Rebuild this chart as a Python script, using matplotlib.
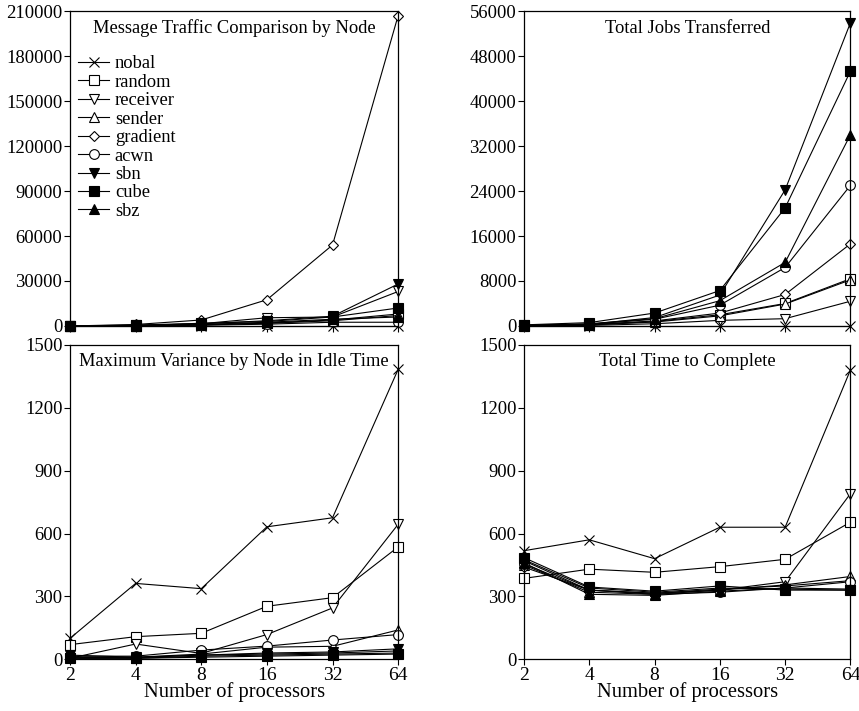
import matplotlib
matplotlib.use("Agg")
import matplotlib.pyplot as plt
import numpy as np

plt.rcParams["font.family"] = "Liberation Serif"
plt.rcParams["font.size"] = 13

procs = [2, 4, 8, 16, 32, 64]
xticklabels = ["2", "4", "8", "16", "32", "64"]

names = ["nobal", "random", "receiver", "sender", "gradient", "acwn", "sbn", "cube", "sbz"]
markers = ["x", "s", "v", "^", "D", "o", "v", "s", "^"]
filled = [False, False, False, False, False, False, True, True, True]
msizes = [7, 7, 7, 7, 5, 7, 7, 7, 7]

# Message traffic comparison by node
msg = {
    "nobal":    [0, 0, 0, 0, 0, 0],
    "random":   [0, 200, 800, 2000, 4000, 8000],
    "receiver": [0, 300, 1500, 5500, 6000, 23000],
    "sender":   [0, 200, 700, 1800, 3500, 7000],
    "gradient": [0, 1000, 4000, 17500, 54000, 207000],
    "acwn":     [0, 100, 500, 1200, 2500, 2500],
    "sbn":      [0, 400, 1500, 3500, 6500, 28000],
    "cube":     [0, 600, 1800, 3000, 6000, 12000],
    "sbz":      [0, 300, 1000, 2500, 4500, 6000],
}

# Total jobs transferred
jobs = {
    "nobal":    [0, 0, 0, 0, 0, 0],
    "random":   [50, 200, 800, 2000, 4000, 8400],
    "receiver": [20, 100, 400, 1000, 1300, 4400],
    "sender":   [50, 200, 700, 1800, 3900, 8200],
    "gradient": [50, 250, 900, 2300, 5600, 14600],
    "acwn":     [80, 300, 1200, 3700, 10400, 25000],
    "sbn":      [100, 300, 1500, 5500, 24200, 53900],
    "cube":     [200, 600, 2300, 6300, 21000, 45300],
    "sbz":      [100, 400, 1300, 4500, 11300, 34000],
}

# Maximum variance by node in idle time
var = {
    "nobal":    [100, 362, 337, 632, 675, 1383],
    "random":   [70, 108, 124, 253, 294, 536],
    "receiver": [5, 73, 28, 118, 245, 644],
    "sender":   [10, 10, 25, 58, 62, 140],
    "gradient": [5, 5, 15, 20, 25, 30],
    "acwn":     [15, 15, 44, 63, 92, 118],
    "sbn":      [20, 10, 20, 30, 35, 50],
    "cube":     [5, 5, 10, 15, 20, 25],
    "sbz":      [10, 8, 20, 25, 30, 40],
}

# Total time to complete
ttime = {
    "nobal":    [518, 570, 480, 630, 630, 1380],
    "random":   [386, 430, 415, 442, 477, 654],
    "receiver": [470, 330, 315, 330, 370, 790],
    "sender":   [450, 320, 310, 330, 355, 395],
    "gradient": [440, 330, 315, 335, 350, 375],
    "acwn":     [455, 330, 310, 320, 340, 370],
    "sbn":      [475, 340, 320, 340, 335, 330],
    "cube":     [485, 345, 325, 350, 330, 330],
    "sbz":      [460, 310, 305, 325, 340, 335],
}

fig = plt.figure(figsize=(8.59, 7.11), dpi=100)
ax_msg = fig.add_axes([0.0815, 0.5415, 0.382, 0.443])
ax_job = fig.add_axes([0.610, 0.5415, 0.380, 0.443])
ax_var = fig.add_axes([0.0815, 0.0727, 0.382, 0.4423])
ax_tim = fig.add_axes([0.610, 0.0727, 0.380, 0.4423])

xpos = np.log2(procs)


def draw(ax, data, title, ymax, ystep, title_x=0.5, title_ha="center", xlabels=False):
    for name, m, f, ms in zip(names, markers, filled, msizes):
        ax.plot(xpos, data[name], color="black", lw=0.8, marker=m, ms=ms,
                mfc="black" if f else "white", mec="black", mew=0.8,
                label=name, clip_on=False)
    ax.set_xlim(xpos[0], xpos[-1])
    ax.set_ylim(0, ymax)
    ax.set_yticks(np.arange(0, ymax + 1, ystep))
    ax.set_xticks(xpos)
    if xlabels:
        ax.set_xticklabels(xticklabels)
        ax.set_xlabel("Number of processors", fontsize=14.8, labelpad=-1)
    else:
        ax.set_xticklabels([])
    ax.tick_params(direction="out", length=4, width=0.8, labelsize=13.4, pad=1.5)
    ax.tick_params(axis="x", labelsize=14)
    for s in ax.spines.values():
        s.set_linewidth(0.9)
    ax.text(title_x, 0.946, title, transform=ax.transAxes, ha=title_ha,
            va="center", fontsize=13.3)


draw(ax_msg, msg, "Message Traffic Comparison by Node", 210000, 30000)
draw(ax_job, jobs, "Total Jobs Transferred", 56000, 8000)
draw(ax_var, var, "Maximum Variance by Node in Idle Time", 1500, 300,
     title_x=0.027, title_ha="left", xlabels=True)
draw(ax_tim, ttime, "Total Time to Complete", 1500, 300, xlabels=True)

ax_msg.legend(loc="upper left", bbox_to_anchor=(0.024, 0.86), frameon=False,
              handlelength=1.7, handletextpad=0.3, labelspacing=0.08,
              borderaxespad=0.0, borderpad=0.0, fontsize=13.3)

fig.savefig("out.png", dpi=100)
